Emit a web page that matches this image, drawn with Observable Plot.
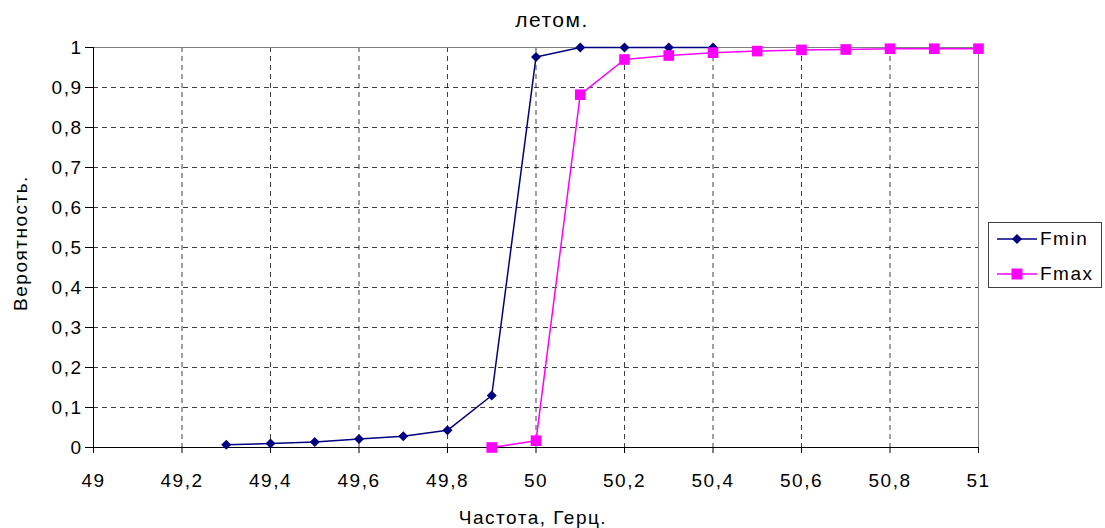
<!DOCTYPE html>
<html><head><meta charset="utf-8">
<script src="https://cdn.jsdelivr.net/npm/d3@7"></script>
<script src="https://cdn.jsdelivr.net/npm/@observablehq/plot@0.6"></script>
<style>
body{margin:0;background:#fff;font-family:"Liberation Sans",Arial,sans-serif;}
#wrap{position:relative;width:1105px;height:528px;overflow:hidden;background:#fff}
#chart svg text{letter-spacing:1.5px}
.t{position:absolute;white-space:nowrap;color:#000;letter-spacing:1.5px;line-height:1}
#legend{position:absolute;left:988px;top:222px;width:114px;height:66px;box-sizing:border-box;border:1px solid #404040;background:#fff}
#legend .row{position:absolute;left:8px;height:20px;display:flex;align-items:center;font-size:19px;letter-spacing:1.5px}
#legend svg{margin-right:3px}
</style></head><body>
<div id="wrap"><div id="chart"></div></div>
<script>
// Data
const freqMin = [49.3, 49.4, 49.5, 49.6, 49.7, 49.8, 49.9, 50.0, 50.1, 50.2, 50.3, 50.4];
const valMin  = [0.007, 0.010, 0.014, 0.021, 0.028, 0.043, 0.130, 0.976, 1.0, 1.0, 1.0, 1.0];
const freqMax = [49.9, 50.0, 50.1, 50.2, 50.3, 50.4, 50.5, 50.6, 50.7, 50.8, 50.9, 51.0];
const valMax  = [0.0, 0.017, 0.882, 0.970, 0.980, 0.987, 0.991, 0.994, 0.995, 0.997, 0.997, 0.997];
const seriesNames = ["Fmin", "Fmax"];
const seriesColors = ["#000080", "#ff00ff"];
const xTicks = [49, 49.2, 49.4, 49.6, 49.8, 50, 50.2, 50.4, 50.6, 50.8, 51];
const yTicks = [0, 0.1, 0.2, 0.3, 0.4, 0.5, 0.6, 0.7, 0.8, 0.9, 1];
const titleText = "летом.";
const xTitle = "Частота, Герц.";
const yTitle = "Вероятность.";

const fmt = d => String(+d.toFixed(1)).replace(".", ",");
const dataMin = freqMin.map((f, i) => ({f, v: valMin[i]}));
const dataMax = freqMax.map((f, i) => ({f, v: valMax[i]}));
const dash = {stroke: "#000", strokeOpacity: 0.75, strokeDasharray: "5,4", strokeWidth: 1};

const plot = Plot.plot({
  width: 1105, height: 528,
  marginLeft: 93, marginRight: 127, marginTop: 47, marginBottom: 81,
  style: {fontFamily: "Liberation Sans, Arial, sans-serif", fontSize: "19px", color: "#000", background: "#fff", overflow: "visible"},
  x: {domain: [49, 51], label: null},
  y: {domain: [0, 1], label: null},
  marks: [
    Plot.ruleX(xTicks.slice(1, -1), dash),
    Plot.ruleY(yTicks.slice(1), dash),
    Plot.frame({stroke: "#808080"}),
    Plot.ruleX([xTicks[0]], {stroke: "#000"}),
    Plot.ruleY([yTicks[0]], {stroke: "#000"}),
    Plot.axisX({ticks: xTicks, tickFormat: fmt, tickSize: 6, tickPadding: 20, label: null}),
    Plot.axisY({ticks: yTicks, tickFormat: fmt, tickSize: 8, tickPadding: 3, label: null}),
    Plot.line(dataMin, {x: "f", y: "v", stroke: seriesColors[0], strokeWidth: 1.5}),
    Plot.dot(dataMin, {x: "f", y: "v", symbol: "diamond2", fill: seriesColors[0], stroke: null, r: 4.5}),
    Plot.line(dataMax, {x: "f", y: "v", stroke: seriesColors[1], strokeWidth: 1.5}),
    Plot.dot(dataMax, {x: "f", y: "v", symbol: "square", fill: seriesColors[1], stroke: null, r: 6})
  ]
});
document.getElementById("chart").appendChild(plot);

const wrap = document.getElementById("wrap");
function addText(txt, css) {
  const d = document.createElement("div");
  d.className = "t";
  d.textContent = txt;
  Object.assign(d.style, css);
  wrap.appendChild(d);
}
addText(titleText, {left: "552px", top: "9px", fontSize: "21px", transform: "translateX(-50%)"});
addText(xTitle, {left: "533px", top: "508px", fontSize: "19px", transform: "translateX(-50%)"});
addText(yTitle, {left: "20px", top: "243px", fontSize: "19px", transform: "translate(-50%,-50%) rotate(-90deg)"});

// Legend
const leg = document.createElement("div");
leg.id = "legend";
seriesNames.forEach((name, i) => {
  const row = document.createElement("div");
  row.className = "row";
  row.style.top = (6 + i * 35) + "px";
  const c = seriesColors[i];
  const sym = i === 0
    ? `<polygon points="20,5 25,10 20,15 15,10" fill="${c}"/>`
    : `<rect x="14.5" y="4.5" width="11" height="11" fill="${c}"/>`;
  row.innerHTML = `<svg width="40" height="20"><line x1="0" y1="10" x2="40" y2="10" stroke="${c}" stroke-width="1.5"/>${sym}</svg><span>${name}</span>`;
  leg.appendChild(row);
});
wrap.appendChild(leg);
</script>
</body></html>
